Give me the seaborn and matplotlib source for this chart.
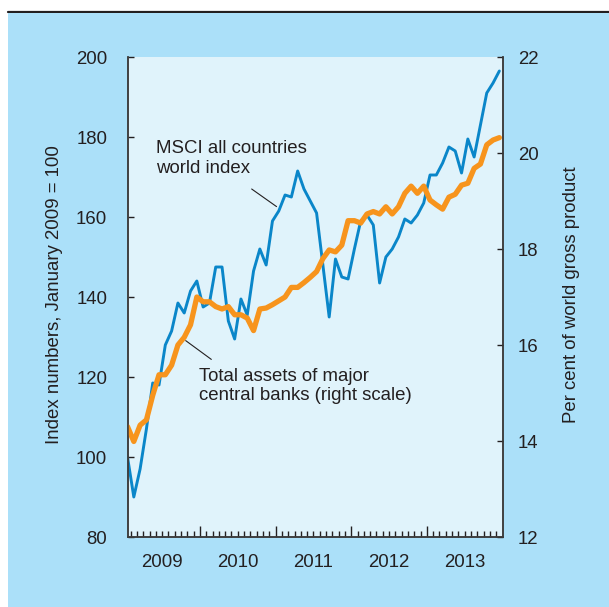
import numpy as np
import pandas as pd
import matplotlib.pyplot as plt
import seaborn as sns
from matplotlib.patches import Rectangle
from matplotlib.lines import Line2D

# monthly values, Jan 2009 - Dec 2013 (plotted mid-month)
msci = [100, 90, 97, 107, 118.5, 118, 128, 131.5, 138.5, 136, 141.5, 144,
        137.5, 138.5, 147.5, 147.5, 134, 129.5, 139.5, 135.5, 146.5, 152, 148, 159,
        161.5, 165.5, 165, 171.5, 167, 164, 161, 148, 135, 149.5, 145, 144.5,
        152, 159, 160.5, 158, 143.5, 150, 152, 155, 159.5, 158.5, 160.5, 163.5,
        170.5, 170.5, 173.5, 177.5, 176.5, 171, 179.5, 175, 183, 191, 193.5, 196.5]
cb_assets = [14.30, 13.99, 14.33, 14.44, 14.95, 15.38, 15.38, 15.58, 16.0, 16.16, 16.42, 17.0,
             16.9, 16.9, 16.8, 16.75, 16.8, 16.63, 16.63, 16.56, 16.3, 16.75, 16.77, 16.84,
             16.92, 17.0, 17.2, 17.2, 17.3, 17.41, 17.53, 17.8, 17.98, 17.94, 18.08, 18.59,
             18.59, 18.54, 18.73, 18.78, 18.73, 18.88, 18.73, 18.88, 19.16, 19.31, 19.16, 19.31,
             19.02, 18.92, 18.83, 19.08, 19.14, 19.33, 19.37, 19.68, 19.77, 20.17, 20.27, 20.32]
years = ["2009", "2010", "2011", "2012", "2013"]

df = pd.DataFrame({"month": np.arange(len(msci)) + 0.5, "msci": msci, "assets": cb_assets})

BLUE = "#0a86c9"
ORANGE = "#f7941d"
OUTER = "#abe0f9"
INNER = "#e0f3fb"
INK = "#231f20"
FS = 13.4

sns.set_style("white")
plt.rcParams["font.family"] = ["Liberation Sans", "DejaVu Sans"]
plt.rcParams["text.color"] = INK
plt.rcParams["axes.labelcolor"] = INK
plt.rcParams["xtick.color"] = INK
plt.rcParams["ytick.color"] = INK

W, H = 609, 607
fig = plt.figure(figsize=(W / 100, H / 100), dpi=100, facecolor="white")
fig.patches.append(Rectangle((8 / W, 0), 1, (H - 13) / H, transform=fig.transFigure,
                             facecolor=OUTER, edgecolor="none", zorder=-10))
fig.lines.append(Line2D([8 / W, 1], [1 - 12 / H] * 2, transform=fig.transFigure,
                        color=INK, lw=1.6, zorder=-10))

ax = fig.add_axes([127.5 / W, 70 / H, 375 / W, 480 / H])
ax.set_facecolor(INNER)
sns.lineplot(data=df, x="month", y="msci", ax=ax, color=BLUE, lw=2.1)
ax2 = ax.twinx()
sns.lineplot(data=df, x="month", y="assets", ax=ax2, color=ORANGE, lw=3.8)

ax.set_xlim(0.5, 60)
ax.set_ylim(80, 200)
ax2.set_ylim(12, 22)
ax.set_yticks(range(80, 201, 20))
ax2.set_yticks(range(12, 23, 2))
ax.set_xticks([12, 24, 36, 48])
ax.set_xticks([m for m in range(1, 60) if m % 12], minor=True)
ax.tick_params(axis="x", which="major", direction="in", length=8, width=1,
               bottom=True, labelbottom=False)
ax.tick_params(axis="x", which="minor", direction="in", length=4, width=1, bottom=True)
ax.tick_params(axis="y", direction="in", length=4, width=1, left=True,
               labelsize=FS, pad=14.5)
ax2.tick_params(axis="y", direction="in", length=4, width=1, right=True,
                labelsize=FS, pad=11)

for a in (ax, ax2):
    for side in ("left", "bottom", "right"):
        a.spines[side].set_color("#3c3c3c")
        a.spines[side].set_linewidth(1.1)
    a.spines["top"].set_visible(False)

for i, yr in enumerate(years):
    ax.text(6 + 12 * i, -0.054, yr, transform=ax.get_xaxis_transform(),
            ha="center", va="center", fontsize=FS)

ax.set_xlabel("")
ax.set_ylabel("Index numbers, January 2009 = 100", fontsize=FS)
ax.yaxis.set_label_coords(-0.172, 0.506)
ax2.set_ylabel("Per cent of world gross product", fontsize=FS)
ax2.yaxis.set_label_coords(1.161, 0.505)

ax.text(5.1, 179.2, "MSCI all countries\nworld index", fontsize=FS, va="top",
        linespacing=1.2)
ax.plot([20.2, 24.15], [167, 162.6], color=INK, lw=0.8)
ax.text(11.85, 122.3, "Total assets of major\ncentral banks (right scale)", fontsize=FS,
        va="top", linespacing=1.2)
ax.plot([9.73, 13.8], [129.1, 124.4], color=INK, lw=0.8)

fig.savefig("out.png", dpi=100)
